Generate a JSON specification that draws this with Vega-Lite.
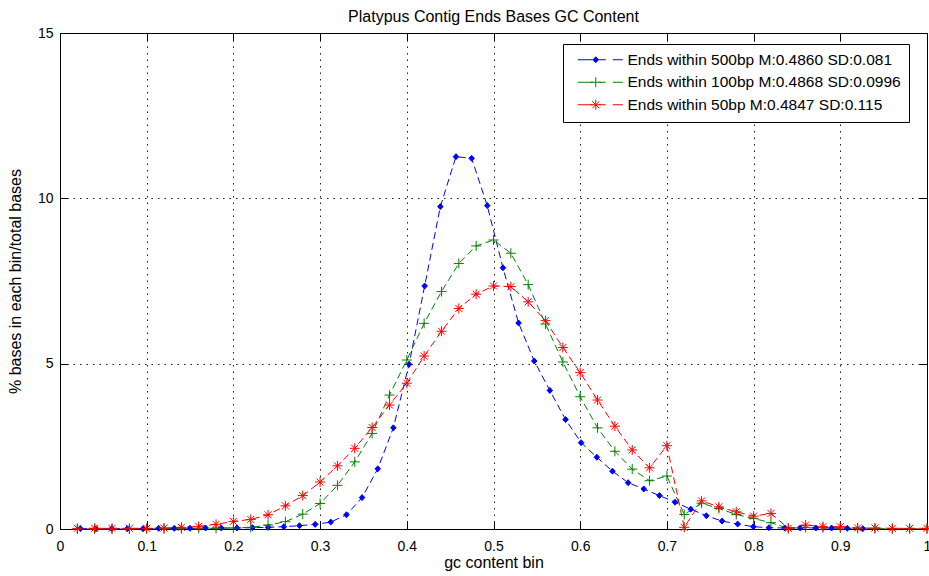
{
  "$schema": "https://vega.github.io/schema/vega-lite/v6.json",
  "width": 867,
  "height": 496,
  "autosize": {"type": "none"},
  "padding": {"left": 60, "top": 33, "right": 2, "bottom": 47},
  "background": "white",
  "config": {
    "font": "Liberation Sans",
    "view": {"stroke": "black", "strokeWidth": 1},
    "axis": {
      "labelFont": "Liberation Sans",
      "labelFontSize": 14,
      "labelColor": "black",
      "titleFont": "Liberation Sans",
      "titleFontSize": 16,
      "titleFontWeight": "normal",
      "titleColor": "black",
      "domainColor": "black",
      "tickColor": "black",
      "tickSize": -8,
      "tickWidth": 1
    }
  },
  "title": {
    "text": "Platypus Contig Ends Bases GC Content",
    "font": "Liberation Sans",
    "fontSize": 16,
    "fontWeight": "normal",
    "color": "black",
    "anchor": "middle",
    "offset": 1
  },
  "datasets": {
    "d": [
      {"series": "Ends within 500bp M:0.4860 SD:0.081", "gc": 0.0235, "pct": 0.01},
      {"series": "Ends within 500bp M:0.4860 SD:0.081", "gc": 0.0416, "pct": 0.01},
      {"series": "Ends within 500bp M:0.4860 SD:0.081", "gc": 0.0596, "pct": 0.01},
      {"series": "Ends within 500bp M:0.4860 SD:0.081", "gc": 0.0777, "pct": 0.01},
      {"series": "Ends within 500bp M:0.4860 SD:0.081", "gc": 0.0957, "pct": 0.01},
      {"series": "Ends within 500bp M:0.4860 SD:0.081", "gc": 0.1138, "pct": 0.02},
      {"series": "Ends within 500bp M:0.4860 SD:0.081", "gc": 0.1318, "pct": 0.02},
      {"series": "Ends within 500bp M:0.4860 SD:0.081", "gc": 0.1499, "pct": 0.02},
      {"series": "Ends within 500bp M:0.4860 SD:0.081", "gc": 0.1679, "pct": 0.03},
      {"series": "Ends within 500bp M:0.4860 SD:0.081", "gc": 0.1860, "pct": 0.03},
      {"series": "Ends within 500bp M:0.4860 SD:0.081", "gc": 0.2040, "pct": 0.03},
      {"series": "Ends within 500bp M:0.4860 SD:0.081", "gc": 0.2221, "pct": 0.04},
      {"series": "Ends within 500bp M:0.4860 SD:0.081", "gc": 0.2401, "pct": 0.05},
      {"series": "Ends within 500bp M:0.4860 SD:0.081", "gc": 0.2582, "pct": 0.07},
      {"series": "Ends within 500bp M:0.4860 SD:0.081", "gc": 0.2762, "pct": 0.10},
      {"series": "Ends within 500bp M:0.4860 SD:0.081", "gc": 0.2943, "pct": 0.14},
      {"series": "Ends within 500bp M:0.4860 SD:0.081", "gc": 0.3123, "pct": 0.21},
      {"series": "Ends within 500bp M:0.4860 SD:0.081", "gc": 0.3304, "pct": 0.43},
      {"series": "Ends within 500bp M:0.4860 SD:0.081", "gc": 0.3484, "pct": 0.95},
      {"series": "Ends within 500bp M:0.4860 SD:0.081", "gc": 0.3665, "pct": 1.82},
      {"series": "Ends within 500bp M:0.4860 SD:0.081", "gc": 0.3845, "pct": 3.06},
      {"series": "Ends within 500bp M:0.4860 SD:0.081", "gc": 0.4026, "pct": 4.98},
      {"series": "Ends within 500bp M:0.4860 SD:0.081", "gc": 0.4206, "pct": 7.35},
      {"series": "Ends within 500bp M:0.4860 SD:0.081", "gc": 0.4387, "pct": 9.75},
      {"series": "Ends within 500bp M:0.4860 SD:0.081", "gc": 0.4567, "pct": 11.26},
      {"series": "Ends within 500bp M:0.4860 SD:0.081", "gc": 0.4748, "pct": 11.21},
      {"series": "Ends within 500bp M:0.4860 SD:0.081", "gc": 0.4928, "pct": 9.78},
      {"series": "Ends within 500bp M:0.4860 SD:0.081", "gc": 0.5109, "pct": 7.9},
      {"series": "Ends within 500bp M:0.4860 SD:0.081", "gc": 0.5289, "pct": 6.23},
      {"series": "Ends within 500bp M:0.4860 SD:0.081", "gc": 0.5470, "pct": 5.08},
      {"series": "Ends within 500bp M:0.4860 SD:0.081", "gc": 0.5650, "pct": 4.19},
      {"series": "Ends within 500bp M:0.4860 SD:0.081", "gc": 0.5831, "pct": 3.31},
      {"series": "Ends within 500bp M:0.4860 SD:0.081", "gc": 0.6011, "pct": 2.61},
      {"series": "Ends within 500bp M:0.4860 SD:0.081", "gc": 0.6192, "pct": 2.17},
      {"series": "Ends within 500bp M:0.4860 SD:0.081", "gc": 0.6372, "pct": 1.75},
      {"series": "Ends within 500bp M:0.4860 SD:0.081", "gc": 0.6553, "pct": 1.40},
      {"series": "Ends within 500bp M:0.4860 SD:0.081", "gc": 0.6733, "pct": 1.21},
      {"series": "Ends within 500bp M:0.4860 SD:0.081", "gc": 0.6914, "pct": 1.01},
      {"series": "Ends within 500bp M:0.4860 SD:0.081", "gc": 0.7094, "pct": 0.81},
      {"series": "Ends within 500bp M:0.4860 SD:0.081", "gc": 0.7275, "pct": 0.60},
      {"series": "Ends within 500bp M:0.4860 SD:0.081", "gc": 0.7455, "pct": 0.40},
      {"series": "Ends within 500bp M:0.4860 SD:0.081", "gc": 0.7636, "pct": 0.24},
      {"series": "Ends within 500bp M:0.4860 SD:0.081", "gc": 0.7816, "pct": 0.15},
      {"series": "Ends within 500bp M:0.4860 SD:0.081", "gc": 0.7997, "pct": 0.07},
      {"series": "Ends within 500bp M:0.4860 SD:0.081", "gc": 0.8177, "pct": 0.04},
      {"series": "Ends within 500bp M:0.4860 SD:0.081", "gc": 0.8358, "pct": 0.03},
      {"series": "Ends within 500bp M:0.4860 SD:0.081", "gc": 0.8538, "pct": 0.03},
      {"series": "Ends within 500bp M:0.4860 SD:0.081", "gc": 0.8719, "pct": 0.03},
      {"series": "Ends within 500bp M:0.4860 SD:0.081", "gc": 0.8899, "pct": 0.03},
      {"series": "Ends within 500bp M:0.4860 SD:0.081", "gc": 0.9080, "pct": 0.02},
      {"series": "Ends within 500bp M:0.4860 SD:0.081", "gc": 0.9260, "pct": 0.01},

      {"series": "Ends within 100bp M:0.4868 SD:0.0996", "gc": 0.02, "pct": 0.0},
      {"series": "Ends within 100bp M:0.4868 SD:0.0996", "gc": 0.04, "pct": 0.0},
      {"series": "Ends within 100bp M:0.4868 SD:0.0996", "gc": 0.06, "pct": 0.0},
      {"series": "Ends within 100bp M:0.4868 SD:0.0996", "gc": 0.08, "pct": 0.0},
      {"series": "Ends within 100bp M:0.4868 SD:0.0996", "gc": 0.10, "pct": 0.01},
      {"series": "Ends within 100bp M:0.4868 SD:0.0996", "gc": 0.12, "pct": 0.01},
      {"series": "Ends within 100bp M:0.4868 SD:0.0996", "gc": 0.14, "pct": 0.01},
      {"series": "Ends within 100bp M:0.4868 SD:0.0996", "gc": 0.16, "pct": 0.02},
      {"series": "Ends within 100bp M:0.4868 SD:0.0996", "gc": 0.18, "pct": 0.02},
      {"series": "Ends within 100bp M:0.4868 SD:0.0996", "gc": 0.20, "pct": 0.03},
      {"series": "Ends within 100bp M:0.4868 SD:0.0996", "gc": 0.22, "pct": 0.05},
      {"series": "Ends within 100bp M:0.4868 SD:0.0996", "gc": 0.24, "pct": 0.12},
      {"series": "Ends within 100bp M:0.4868 SD:0.0996", "gc": 0.26, "pct": 0.22},
      {"series": "Ends within 100bp M:0.4868 SD:0.0996", "gc": 0.28, "pct": 0.45},
      {"series": "Ends within 100bp M:0.4868 SD:0.0996", "gc": 0.30, "pct": 0.77},
      {"series": "Ends within 100bp M:0.4868 SD:0.0996", "gc": 0.32, "pct": 1.32},
      {"series": "Ends within 100bp M:0.4868 SD:0.0996", "gc": 0.34, "pct": 2.03},
      {"series": "Ends within 100bp M:0.4868 SD:0.0996", "gc": 0.36, "pct": 2.89},
      {"series": "Ends within 100bp M:0.4868 SD:0.0996", "gc": 0.38, "pct": 4.05},
      {"series": "Ends within 100bp M:0.4868 SD:0.0996", "gc": 0.40, "pct": 5.11},
      {"series": "Ends within 100bp M:0.4868 SD:0.0996", "gc": 0.42, "pct": 6.22},
      {"series": "Ends within 100bp M:0.4868 SD:0.0996", "gc": 0.44, "pct": 7.18},
      {"series": "Ends within 100bp M:0.4868 SD:0.0996", "gc": 0.46, "pct": 8.03},
      {"series": "Ends within 100bp M:0.4868 SD:0.0996", "gc": 0.48, "pct": 8.56},
      {"series": "Ends within 100bp M:0.4868 SD:0.0996", "gc": 0.50, "pct": 8.74},
      {"series": "Ends within 100bp M:0.4868 SD:0.0996", "gc": 0.52, "pct": 8.34},
      {"series": "Ends within 100bp M:0.4868 SD:0.0996", "gc": 0.54, "pct": 7.39},
      {"series": "Ends within 100bp M:0.4868 SD:0.0996", "gc": 0.56, "pct": 6.2},
      {"series": "Ends within 100bp M:0.4868 SD:0.0996", "gc": 0.58, "pct": 5.05},
      {"series": "Ends within 100bp M:0.4868 SD:0.0996", "gc": 0.60, "pct": 4.0},
      {"series": "Ends within 100bp M:0.4868 SD:0.0996", "gc": 0.62, "pct": 3.06},
      {"series": "Ends within 100bp M:0.4868 SD:0.0996", "gc": 0.64, "pct": 2.35},
      {"series": "Ends within 100bp M:0.4868 SD:0.0996", "gc": 0.66, "pct": 1.81},
      {"series": "Ends within 100bp M:0.4868 SD:0.0996", "gc": 0.68, "pct": 1.46},
      {"series": "Ends within 100bp M:0.4868 SD:0.0996", "gc": 0.70, "pct": 1.60},
      {"series": "Ends within 100bp M:0.4868 SD:0.0996", "gc": 0.72, "pct": 0.44},
      {"series": "Ends within 100bp M:0.4868 SD:0.0996", "gc": 0.74, "pct": 0.78},
      {"series": "Ends within 100bp M:0.4868 SD:0.0996", "gc": 0.76, "pct": 0.62},
      {"series": "Ends within 100bp M:0.4868 SD:0.0996", "gc": 0.78, "pct": 0.44},
      {"series": "Ends within 100bp M:0.4868 SD:0.0996", "gc": 0.80, "pct": 0.32},
      {"series": "Ends within 100bp M:0.4868 SD:0.0996", "gc": 0.82, "pct": 0.19},
      {"series": "Ends within 100bp M:0.4868 SD:0.0996", "gc": 0.84, "pct": 0.02},
      {"series": "Ends within 100bp M:0.4868 SD:0.0996", "gc": 0.86, "pct": 0.05},
      {"series": "Ends within 100bp M:0.4868 SD:0.0996", "gc": 0.88, "pct": 0.04},
      {"series": "Ends within 100bp M:0.4868 SD:0.0996", "gc": 0.90, "pct": 0.03},
      {"series": "Ends within 100bp M:0.4868 SD:0.0996", "gc": 0.92, "pct": 0.02},
      {"series": "Ends within 100bp M:0.4868 SD:0.0996", "gc": 0.94, "pct": 0.01},
      {"series": "Ends within 100bp M:0.4868 SD:0.0996", "gc": 0.96, "pct": 0.01},
      {"series": "Ends within 100bp M:0.4868 SD:0.0996", "gc": 0.98, "pct": 0.01},
      {"series": "Ends within 100bp M:0.4868 SD:0.0996", "gc": 1.00, "pct": 0.01},

      {"series": "Ends within 50bp M:0.4847 SD:0.115", "gc": 0.02, "pct": 0.02},
      {"series": "Ends within 50bp M:0.4847 SD:0.115", "gc": 0.04, "pct": 0.02},
      {"series": "Ends within 50bp M:0.4847 SD:0.115", "gc": 0.06, "pct": 0.02},
      {"series": "Ends within 50bp M:0.4847 SD:0.115", "gc": 0.08, "pct": 0.02},
      {"series": "Ends within 50bp M:0.4847 SD:0.115", "gc": 0.10, "pct": 0.02},
      {"series": "Ends within 50bp M:0.4847 SD:0.115", "gc": 0.12, "pct": 0.03},
      {"series": "Ends within 50bp M:0.4847 SD:0.115", "gc": 0.14, "pct": 0.05},
      {"series": "Ends within 50bp M:0.4847 SD:0.115", "gc": 0.16, "pct": 0.08},
      {"series": "Ends within 50bp M:0.4847 SD:0.115", "gc": 0.18, "pct": 0.14},
      {"series": "Ends within 50bp M:0.4847 SD:0.115", "gc": 0.20, "pct": 0.23},
      {"series": "Ends within 50bp M:0.4847 SD:0.115", "gc": 0.22, "pct": 0.29},
      {"series": "Ends within 50bp M:0.4847 SD:0.115", "gc": 0.24, "pct": 0.43},
      {"series": "Ends within 50bp M:0.4847 SD:0.115", "gc": 0.26, "pct": 0.70},
      {"series": "Ends within 50bp M:0.4847 SD:0.115", "gc": 0.28, "pct": 1.01},
      {"series": "Ends within 50bp M:0.4847 SD:0.115", "gc": 0.30, "pct": 1.42},
      {"series": "Ends within 50bp M:0.4847 SD:0.115", "gc": 0.32, "pct": 1.91},
      {"series": "Ends within 50bp M:0.4847 SD:0.115", "gc": 0.34, "pct": 2.44},
      {"series": "Ends within 50bp M:0.4847 SD:0.115", "gc": 0.36, "pct": 3.07},
      {"series": "Ends within 50bp M:0.4847 SD:0.115", "gc": 0.38, "pct": 3.75},
      {"series": "Ends within 50bp M:0.4847 SD:0.115", "gc": 0.40, "pct": 4.41},
      {"series": "Ends within 50bp M:0.4847 SD:0.115", "gc": 0.42, "pct": 5.23},
      {"series": "Ends within 50bp M:0.4847 SD:0.115", "gc": 0.44, "pct": 5.98},
      {"series": "Ends within 50bp M:0.4847 SD:0.115", "gc": 0.46, "pct": 6.67},
      {"series": "Ends within 50bp M:0.4847 SD:0.115", "gc": 0.48, "pct": 7.10},
      {"series": "Ends within 50bp M:0.4847 SD:0.115", "gc": 0.50, "pct": 7.35},
      {"series": "Ends within 50bp M:0.4847 SD:0.115", "gc": 0.52, "pct": 7.33},
      {"series": "Ends within 50bp M:0.4847 SD:0.115", "gc": 0.54, "pct": 6.87},
      {"series": "Ends within 50bp M:0.4847 SD:0.115", "gc": 0.56, "pct": 6.30},
      {"series": "Ends within 50bp M:0.4847 SD:0.115", "gc": 0.58, "pct": 5.49},
      {"series": "Ends within 50bp M:0.4847 SD:0.115", "gc": 0.60, "pct": 4.73},
      {"series": "Ends within 50bp M:0.4847 SD:0.115", "gc": 0.62, "pct": 3.90},
      {"series": "Ends within 50bp M:0.4847 SD:0.115", "gc": 0.64, "pct": 3.11},
      {"series": "Ends within 50bp M:0.4847 SD:0.115", "gc": 0.66, "pct": 2.39},
      {"series": "Ends within 50bp M:0.4847 SD:0.115", "gc": 0.68, "pct": 1.85},
      {"series": "Ends within 50bp M:0.4847 SD:0.115", "gc": 0.70, "pct": 2.52},
      {"series": "Ends within 50bp M:0.4847 SD:0.115", "gc": 0.72, "pct": 0.05},
      {"series": "Ends within 50bp M:0.4847 SD:0.115", "gc": 0.74, "pct": 0.85},
      {"series": "Ends within 50bp M:0.4847 SD:0.115", "gc": 0.76, "pct": 0.67},
      {"series": "Ends within 50bp M:0.4847 SD:0.115", "gc": 0.78, "pct": 0.52},
      {"series": "Ends within 50bp M:0.4847 SD:0.115", "gc": 0.80, "pct": 0.39},
      {"series": "Ends within 50bp M:0.4847 SD:0.115", "gc": 0.82, "pct": 0.47},
      {"series": "Ends within 50bp M:0.4847 SD:0.115", "gc": 0.84, "pct": 0.02},
      {"series": "Ends within 50bp M:0.4847 SD:0.115", "gc": 0.86, "pct": 0.12},
      {"series": "Ends within 50bp M:0.4847 SD:0.115", "gc": 0.88, "pct": 0.07},
      {"series": "Ends within 50bp M:0.4847 SD:0.115", "gc": 0.90, "pct": 0.07},
      {"series": "Ends within 50bp M:0.4847 SD:0.115", "gc": 0.92, "pct": 0.03},
      {"series": "Ends within 50bp M:0.4847 SD:0.115", "gc": 0.94, "pct": 0.03},
      {"series": "Ends within 50bp M:0.4847 SD:0.115", "gc": 0.96, "pct": 0.02},
      {"series": "Ends within 50bp M:0.4847 SD:0.115", "gc": 0.98, "pct": 0.02},
      {"series": "Ends within 50bp M:0.4847 SD:0.115", "gc": 1.00, "pct": 0.02}
    ]
  },
  "data": {"name": "d"},
  "layer": [
    {
      "mark": {"type": "line", "strokeDash": [7, 4], "strokeWidth": 1},
      "encoding": {
        "x": {
          "field": "gc", "type": "quantitative",
          "scale": {"domain": [0, 1], "nice": false, "zero": false},
          "axis": {
            "orient": "bottom", "title": "gc content bin",
            "values": [0, 0.1, 0.2, 0.3, 0.4, 0.5, 0.6, 0.7, 0.8, 0.9, 1],
            "format": "~g", "labelPadding": 18, "labelFlush": false,
            "grid": true, "gridColor": "black", "gridDash": [1.5, 5], "gridWidth": 1, "gridOpacity": 0.9,
            "titlePadding": 1
          }
        },
        "y": {
          "field": "pct", "type": "quantitative",
          "scale": {"domain": [0, 15], "nice": false},
          "axis": {
            "orient": "left", "title": "% bases in each bin/total bases",
            "values": [0, 5, 10, 15], "labelPadding": 15, "labelFlush": false,
            "grid": true, "gridColor": "black", "gridDash": [1.5, 5], "gridWidth": 1, "gridOpacity": 0.9,
            "titlePadding": 14
          }
        },
        "stroke": {
          "field": "series", "type": "nominal",
          "scale": {
            "domain": ["Ends within 500bp M:0.4860 SD:0.081", "Ends within 100bp M:0.4868 SD:0.0996", "Ends within 50bp M:0.4847 SD:0.115"],
            "range": ["#0000ff", "#008000", "#ff0000"]
          },
          "legend": {
            "title": null,
            "orient": "none",
            "legendX": 503,
            "legendY": 11,
            "direction": "vertical",
            "padding": 8,
            "strokeColor": "black",
            "fillColor": "white",
            "cornerRadius": 0,
            "labelFont": "Liberation Sans",
            "labelFontSize": 15.5,
            "labelColor": "black",
            "labelLimit": 400,
            "labelOffset": 41,
            "rowPadding": 5.5,
            "symbolSize": 100,
            "symbolStrokeWidth": 1,
            "encode": {
              "symbols": {
                "update": {
                  "shape": {"signal": "indexof(datum.value, '500bp') >= 0 ? 'M-0.2,0H2.8M4,0H5.4M6.8,0H8.8M3.4,-0.6L3.95,0L3.4,0.6L2.85,0Z' : indexof(datum.value, '100bp') >= 0 ? 'M-0.2,0H2.8M4,0H5.4M6.8,0H8.8M3.4,-1V1M2.4,0H4.4' : 'M-0.2,0H2.8M4,0H5.4M6.8,0H8.8M3.4,-1V1M2.4,0H4.4M2.7,-0.7L4.1,0.7M2.7,0.7L4.1,-0.7'"},
                  "fill": {"signal": "indexof(datum.value, '500bp') >= 0 ? '#0000ff' : 'transparent'"},
                  "strokeDash": {"value": []}
                }
              }
            }
          }
        }
      }
    },
    {
      "mark": {"type": "point", "filled": false, "size": 100, "strokeWidth": 1, "opacity": 1},
      "encoding": {
        "x": {
          "field": "gc", "type": "quantitative",
          "axis": {
            "orient": "top", "title": null, "labels": false,
            "values": [0, 0.1, 0.2, 0.3, 0.4, 0.5, 0.6, 0.7, 0.8, 0.9, 1],
            "grid": false
          }
        },
        "y": {
          "field": "pct", "type": "quantitative",
          "axis": {
            "orient": "right", "title": null, "labels": false,
            "values": [0, 5, 10, 15], "grid": false
          }
        },
        "color": {
          "field": "series", "type": "nominal",
          "scale": {
            "domain": ["Ends within 100bp M:0.4868 SD:0.0996", "Ends within 500bp M:0.4860 SD:0.081", "Ends within 50bp M:0.4847 SD:0.115"],
            "range": ["#008000", "#0000ff", "#ff0000"]
          },
          "legend": null
        },
        "shape": {
          "field": "series", "type": "nominal",
          "scale": {
            "domain": ["Ends within 50bp M:0.4847 SD:0.115", "Ends within 100bp M:0.4868 SD:0.0996", "Ends within 500bp M:0.4860 SD:0.081"],
            "range": ["M-1,0H1M0,-1V1M-0.7,-0.7L0.7,0.7M-0.7,0.7L0.7,-0.7", "M-1,0H1M0,-1V1", "M0,-0.6L0.55,0L0,0.6L-0.55,0Z"]
          },
          "legend": null
        },
        "fill": {
          "field": "series", "type": "nominal",
          "scale": {
            "domain": ["Ends within 50bp M:0.4847 SD:0.115", "Ends within 500bp M:0.4860 SD:0.081", "Ends within 100bp M:0.4868 SD:0.0996"],
            "range": ["transparent", "#0000ff", "transparent"]
          },
          "legend": null
        }
      }
    }
  ],
  "resolve": {"axis": {"x": "independent", "y": "independent"}}
}
